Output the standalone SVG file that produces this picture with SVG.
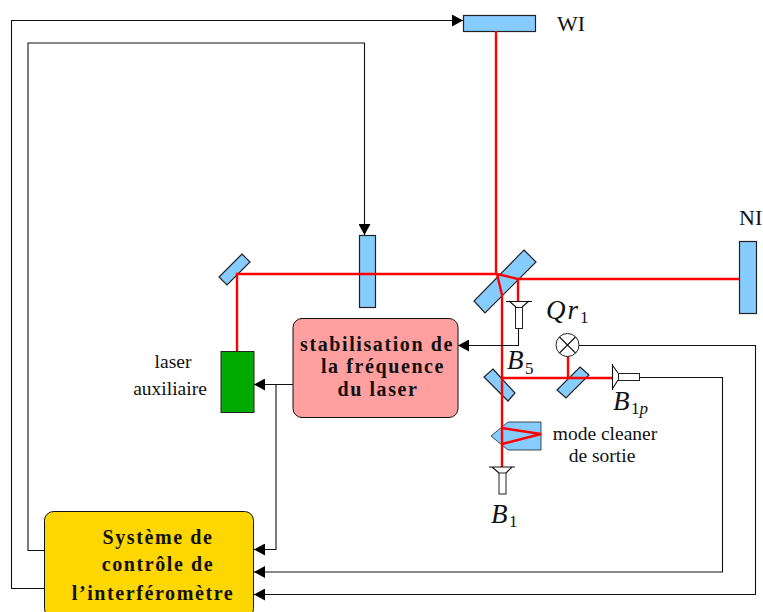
<svg xmlns="http://www.w3.org/2000/svg" width="763" height="612" viewBox="0 0 763 612">
<style>
text{font-family:"Liberation Serif","Times New Roman",serif;fill:#111}
.opt{fill:#87ccff;stroke:#222;stroke-width:1.2}
.beam{fill:none;stroke:#ff0000;stroke-width:2.4}
.wire{fill:none;stroke:#111;stroke-width:1.1}
.det{fill:#fff;stroke:#222;stroke-width:1}
.b{font-weight:bold;font-size:20px;letter-spacing:1.6px;text-anchor:middle}
.n{font-size:19.5px;text-anchor:middle}
.m{font-size:27px;font-style:italic}
.s{font-size:17px}
.l{font-size:22px}
</style>
<defs>
<marker id="a" markerUnits="userSpaceOnUse" markerWidth="11" markerHeight="12" refX="11" refY="6" orient="auto"><path d="M0 0L11 6L0 12Z" fill="#000"/></marker>
</defs>
<g id="WI"><rect class="opt" x="463.500" y="15.500" width="72" height="16"/><text class="l" x="557" y="31">WI</text></g>
<g id="NI"><rect class="opt" x="739.500" y="241.500" width="17" height="72"/><text class="l" x="739" y="225">NI</text></g>
<g id="mirror-top-left"><polygon class="opt" points="242,254 250,262 227,285 219,277"/></g>
<g id="modulator"><rect class="opt" x="359.500" y="235.500" width="16" height="72"/></g>
<g id="beam-splitter"><polygon class="opt" points="524,250 536,262 485,313 474,301"/></g>
<g id="mirror-b1"><polygon class="opt" points="493,369 515,393 508,401 484,377"/></g>
<g id="mirror-b1p"><polygon class="opt" points="580,367 589,375 566,398 557,390"/></g>
<g id="mode-cleaner"><polygon class="opt" style="stroke-width:.8" points="541,422 508,422 491,436 508,450 541,450"/><text class="n" x="605" y="440">mode cleaner</text><text class="n" x="602" y="462">de sortie</text></g>
<g id="beams">
<path class="beam" d="M496 31V274M237 351V274H497L518 279H739M497 274L502 295V467M518 279V301M502 378H612M568 378V356M502 428L541 434L502 444"/>
</g>
<g id="B1"><path class="wire" d="M489 467H515M492 467L499 473M512 467L506 473"/><rect class="det" x="499" y="473" width="7" height="21"/><text class="m" x="491" y="523">B</text><text class="s" x="509" y="527">1</text></g>
<g id="B5"><path class="wire" d="M506 301.500H532M509 301L516 307M529 301L522 307"/><rect class="det" x="515.500" y="307.500" width="7" height="21"/><text class="m" x="507" y="369">B</text><text class="s" x="525" y="374">5</text></g>
<g id="B1p"><path class="wire" d="M612.500 364V390M613 366L618 373M613 388L618 380"/><rect class="det" x="618.500" y="373.500" width="21" height="7"/><text class="m" x="613" y="410">B</text><text class="s" x="631" y="414">1<tspan font-style="italic">p</tspan></text></g>
<g id="Qr1"><circle class="det" cx="567.500" cy="345" r="11.500"/><path class="wire" d="M559.500 337L575.500 353M575.500 337L559.500 353"/><text class="m" x="546" y="319" letter-spacing="2">Qr</text><text class="s" x="580" y="323">1</text></g>
<g id="laser"><rect x="221" y="351.500" width="33" height="61" fill="#00aa00" stroke="#222"/><text class="n" x="173" y="368">laser</text><text class="n" x="170" y="395">auxiliaire</text></g>
<g id="stabilisation"><rect x="293" y="318.500" width="165" height="99" rx="9" fill="#ff9f9f" stroke="#111"/><text class="b" x="377" y="351">stabilisation de</text><text class="b" x="383" y="373">la fréquence</text><text class="b" x="378" y="396">du laser</text></g>
<g id="systeme"><rect x="44.500" y="511.500" width="209" height="106" rx="9" fill="#ffd700" stroke="#111"/><text class="b" x="158" y="544">Système de</text><text class="b" x="158" y="571">contrôle de</text><text class="b" x="153" y="600">l’interféromètre</text></g>
<g id="connectors">
<path class="wire" marker-end="url(#a)" d="M44 588.500H11.500V20.500H463"/>
<path class="wire" marker-end="url(#a)" d="M44 550.500H28V43H364.500V235"/>
<path class="wire" marker-end="url(#a)" d="M293 384.500H254"/>
<path class="wire" marker-end="url(#a)" d="M276 384.500V549.500H254"/>
<path class="wire" marker-end="url(#a)" d="M518.500 329V345.500H458"/>
<path class="wire" marker-end="url(#a)" d="M639 377.500H722.500V572H254"/>
<path class="wire" marker-end="url(#a)" d="M579 345.500H755.500V594.500H254"/>
</g>
</svg>
